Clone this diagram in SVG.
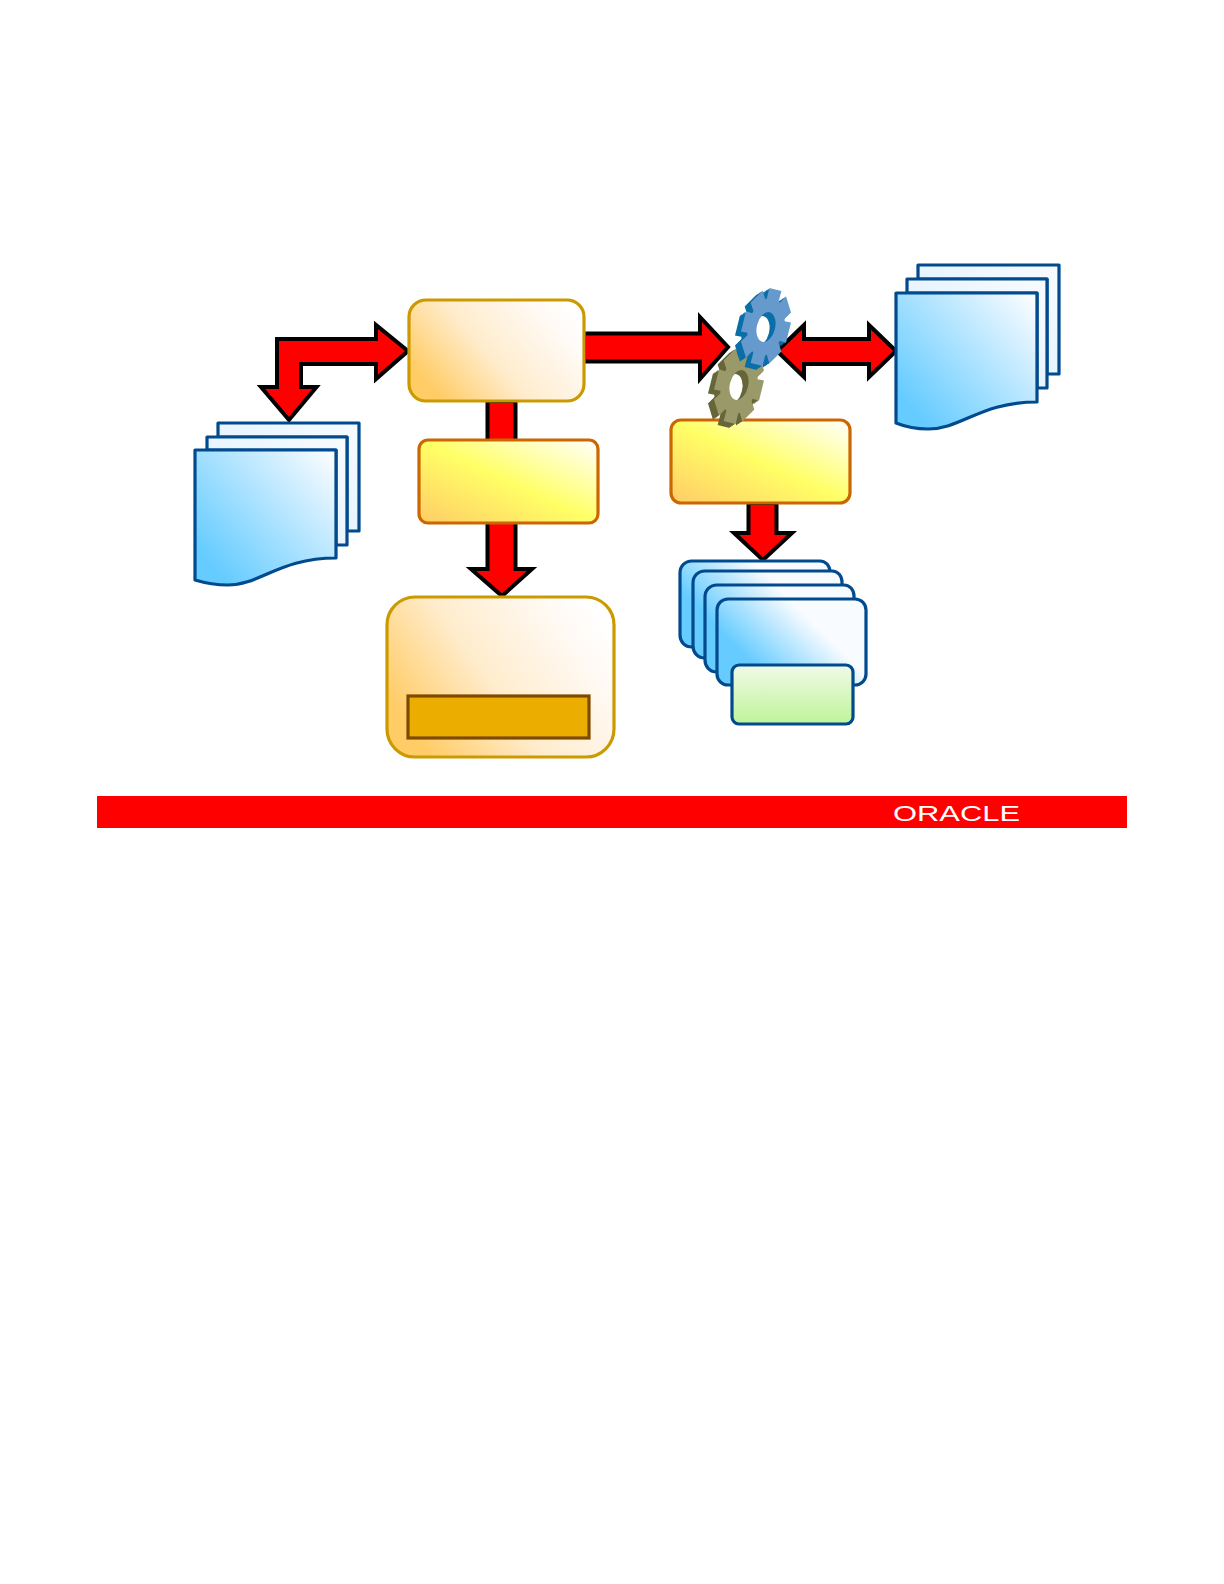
<svg xmlns="http://www.w3.org/2000/svg" width="1224" height="1584" viewBox="0 0 1224 1584">
<style>
.arrow{fill:#f00;stroke:#000;stroke-width:4;stroke-linejoin:miter;stroke-miterlimit:10}
.doc{stroke:#004a8d;stroke-width:3.2;stroke-linejoin:round}
.card{stroke:#004a8d;stroke-width:3.2}
.o{fill:url(#gO);stroke:#cc9900;stroke-width:3.2}
.y{fill:url(#gY);stroke:#cc6600;stroke-width:3.2}
</style>
<defs>
<linearGradient id="gO" x1="0" y1=".75" x2="1" y2=".25"><stop offset=".05" stop-color="#ffcc66"/><stop offset=".45" stop-color="#ffeccc"/><stop offset=".85" stop-color="#fffaf5"/><stop offset="1" stop-color="#fff"/></linearGradient>
<linearGradient id="gY" x1="0" y1="1" x2="1" y2="0"><stop offset="0" stop-color="#ffcc66"/><stop offset=".5" stop-color="#ffff66"/><stop offset="1" stop-color="#fff"/></linearGradient>
<linearGradient id="gB" x1="0" y1=".95" x2="1" y2=".1"><stop offset=".12" stop-color="#66ccff"/><stop offset="1" stop-color="#f8fbff"/></linearGradient>
<linearGradient id="gB2" x1="0" y1="1" x2="1" y2="0"><stop offset="0" stop-color="#d9eeff"/><stop offset="1" stop-color="#f8fbff"/></linearGradient>
<linearGradient id="gC" x1="0" y1=".8" x2="1" y2=".2"><stop offset=".2" stop-color="#66ccff"/><stop offset=".7" stop-color="#f8fbff"/></linearGradient>
<linearGradient id="gG" x1="0" y1="0" x2="0" y2="1"><stop offset="0" stop-color="#f0fae8"/><stop offset="1" stop-color="#c0f498"/></linearGradient>
<path id="gear" fill-rule="evenodd" d="M69.5-25.3L96.6-25.9L96.6 25.9L69.5 25.3L67.1 31.3L86.6 50L50 86.6L31.3 67.1L25.3 69.5L25.9 96.6L-25.9 96.6L-25.3 69.5L-31.3 67.1L-50 86.6L-86.6 50L-67.1 31.3L-69.5 25.3L-96.6 25.9L-96.6-25.9L-69.5-25.3L-67.1-31.3L-86.6-50L-50-86.6L-31.3-67.1L-25.3-69.5L-25.9-96.6L25.9-96.6L25.3-69.5L31.3-67.1L50-86.6L86.6-50L67.1-31.3ZM38 0A38 38 0 1 0-38 0A38 38 0 1 0 38 0Z"/>
</defs>
<rect width="1224" height="1584" fill="#fff"/>
<g id="connectors">
<polygon class="arrow" points="408,351 376,325 376,339 277,339 277,387 261,387 289,420 316.5,387 301,387 301,364 376,364 376,379"/>
<polygon class="arrow" points="487.5,401 515.5,401 515.5,569 532,569 502,596 471,569 487.5,569"/>
<polygon class="arrow" points="584,333.5 700,333.5 700,317 728,347 700,379 700,361.5 584,361.5"/>
<polygon class="arrow" points="777,351 804,325 804,339 869,339 869,325 896,351 869,377 869,364 804,364 804,377"/>
<polygon class="arrow" points="748.5,503 776.5,503 776.5,533 792,533 763,560 734,533 748.5,533"/>
</g>
<g id="docs-left">
<path class="doc" fill="url(#gB2)" d="M218 423H359V531H347V437H218Z"/>
<path class="doc" fill="url(#gB2)" d="M207 437H347V545H336V450H207Z"/>
<path class="doc" fill="url(#gB)" d="M195 450H336V558C280 558 260 585 228 585C215 585 205 583 195 580Z"/>
</g>
<g id="docs-right">
<path class="doc" fill="url(#gB2)" d="M918 265H1059V374H1047V279H918Z"/>
<path class="doc" fill="url(#gB2)" d="M907 279H1047V388H1037V293H907Z"/>
<path class="doc" fill="url(#gB)" d="M896 293H1037V402C980 402 962 429 928 429C916 429 906 427 896 423Z"/>
</g>
<g id="repository"><rect class="o" x="409" y="300" width="175" height="101" rx="17"/></g>
<g id="stage-left"><rect class="y" x="419" y="440" width="179" height="83" rx="9"/></g>
<g id="stage-right"><rect class="y" x="671" y="420" width="179" height="83" rx="10"/></g>
<g id="target">
<rect class="o" x="387" y="597" width="227" height="160" rx="28"/>
<rect x="408" y="696" width="181" height="42" fill="#ebae00" stroke="#7f4a00" stroke-width="3.2"/>
</g>
<g id="cards">
<path class="card" fill="url(#gC)" d="M692 647C685 647 680 642 680 635V573C680 566 685 561 692 561H820C826 561 830 566 830 572V647Z"/>
<path class="card" fill="url(#gC)" d="M705 658C698 658 693 653 693 646V583C693 576 698 571 705 571H832C838 571 842 576 842 582V658Z"/>
<path class="card" fill="url(#gC)" d="M717 672C710 672 705 667 705 660V597C705 590 710 585 717 585H844C850 585 854 590 854 596V672Z"/>
<rect class="card" fill="url(#gC)" x="717" y="599" width="149" height="86" rx="11"/>
<rect class="card" fill="url(#gG)" x="732" y="665" width="121" height="59" rx="7"/>
</g>
<g id="gears">
<g id="gear-olive" fill="#66663a">
<use href="#gear" transform="translate(733,389) rotate(14) scale(.24,.4)"/>
<use href="#gear" transform="translate(734.5,388) rotate(14) scale(.24,.4)"/>
<use href="#gear" transform="translate(736,387) rotate(14) scale(.24,.4)"/>
<use href="#gear" transform="translate(737.5,386) rotate(14) scale(.24,.4)"/>
<use href="#gear" fill="#99996a" transform="translate(739,385) rotate(14) scale(.24,.4)"/>
</g>
<g id="gear-blue" fill="#0a6fa8">
<use href="#gear" transform="translate(760,331) rotate(14) scale(.24,.4)"/>
<use href="#gear" transform="translate(761.5,330) rotate(14) scale(.24,.4)"/>
<use href="#gear" transform="translate(763,329) rotate(14) scale(.24,.4)"/>
<use href="#gear" transform="translate(764.5,328) rotate(14) scale(.24,.4)"/>
<use href="#gear" fill="#6699cc" transform="translate(766,327) rotate(14) scale(.24,.4)"/>
</g>
</g>
<g id="footer">
<rect x="97" y="796" width="1030" height="32" fill="#f00"/>
<text x="893" y="821" font-family="Liberation Sans, sans-serif" font-size="22" fill="#fff" textLength="127" lengthAdjust="spacingAndGlyphs">ORACLE</text>
</g>
</svg>
